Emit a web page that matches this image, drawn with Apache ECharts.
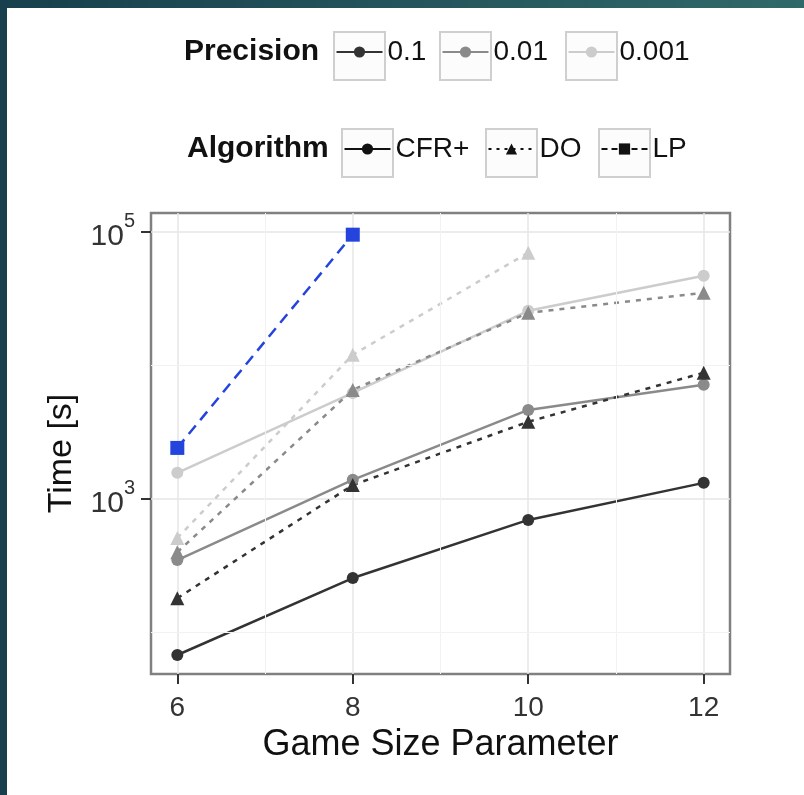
<!DOCTYPE html>
<html>
<head>
<meta charset="utf-8">
<script src="https://cdn.jsdelivr.net/npm/echarts@6/dist/echarts.min.js"></script>
<style>
html, body { margin: 0; padding: 0; }
body { width: 804px; height: 795px; overflow: hidden; position: relative;
       background: linear-gradient(to right, #173f4d, #30696a); }
#main { position: absolute; left: 7px; top: 8px; width: 797px; height: 787px; background: #fff; }
</style>
</head>
<body>
<div id="main"></div>
<script>
// game size parameter
var sizes = [6, 8, 10, 12];
// time [s] per algorithm and precision
var cfrP1   = [68, 256, 697, 1320];
var doP1    = [181, 1270, 3780, 8800];
var cfrP01  = [349, 1390, 4640, 7150];
var doP01   = [400, 6550, 24700, 34900];
var cfrP001 = [1570, 6220, 25600, 46800];
var doP001  = [510, 12000, 69700];
var lpTime  = [2410, 95000];

var precisions = ['0.1', '0.01', '0.001'];
var algorithms = ['CFR+', 'DO', 'LP'];
var yTicks = [1000, 100000];
var xTicks = [6, 8, 10, 12];

var precColor = { '0.1': '#333333', '0.01': '#8a8a8a', '0.001': '#cccccc' };
var algStyle = {
    'CFR+': { symbol: 'circle', size: 12, type: 'solid' },
    'DO':   { symbol: 'triangle', size: 14, type: [5, 6] },
    'LP':   { symbol: 'rect', size: 14, type: [11, 7] }
};

function pairs(vals) {
    return vals.map(function (v, i) { return [sizes[i], v]; });
}

function makeSeries(name, alg, color, vals) {
    var st = algStyle[alg];
    return {
        name: name,
        type: 'line',
        data: pairs(vals),
        symbol: st.symbol,
        symbolSize: st.size,
        showAllSymbol: true,
        z: 3,
        lineStyle: { color: color, width: 2.5, type: st.type },
        itemStyle: { color: color }
    };
}

var series = [
    // minor grid lines
    {
        name: 'grid', type: 'line', data: [], z: 1, silent: true,
        markLine: {
            silent: true, symbol: 'none', label: { show: false },
            lineStyle: { color: '#f2f2f2', width: 1, type: 'solid' },
            data: [{ xAxis: 7 }, { xAxis: 9 }, { xAxis: 11 }, { yAxis: 100 }, { yAxis: 10000 }]
        }
    },
    makeSeries('CFR+ 0.001', 'CFR+', precColor['0.001'], cfrP001),
    makeSeries('DO 0.001', 'DO', precColor['0.001'], doP001),
    makeSeries('CFR+ 0.01', 'CFR+', precColor['0.01'], cfrP01),
    makeSeries('DO 0.01', 'DO', precColor['0.01'], doP01),
    makeSeries('CFR+ 0.1', 'CFR+', precColor['0.1'], cfrP1),
    makeSeries('DO 0.1', 'DO', precColor['0.1'], doP1),
    makeSeries('LP', 'LP', '#2444dd', lpTime)
];

// legend-only series
precisions.forEach(function (p) {
    series.push({ name: p, type: 'line', data: [], symbol: 'circle', symbolSize: 12,
        lineStyle: { color: precColor[p], width: 2.5 }, itemStyle: { color: precColor[p] } });
});
algorithms.forEach(function (a) {
    var st = algStyle[a];
    series.push({ name: a + ' ', type: 'line', data: [], symbol: st.symbol, symbolSize: st.size,
        lineStyle: { color: '#111', width: 2.5, type: a === 'DO' ? [3, 5] : (a === 'LP' ? [6, 4] : 'solid') },
        itemStyle: { color: '#111' } });
});

// legend layout (page px)
var rowY = [55, 152];
var boxLeft = [[333, 439, 565], [341, 485, 598]];
var boxW = 51, boxH = 48;
var legends = [];
var graphics = [
    { type: 'text', left: 184 - 7, top: rowY[0] - 8 - 18,
      style: { text: 'Precision', font: 'bold 30px "Liberation Sans", Arial', fill: '#111' } },
    { type: 'text', left: 187 - 7, top: rowY[1] - 8 - 18,
      style: { text: 'Algorithm', font: 'bold 30px "Liberation Sans", Arial', fill: '#111' } }
];
[precisions, algorithms].forEach(function (names, r) {
    names.forEach(function (n, i) {
        var bl = boxLeft[r][i] - 7;
        graphics.push({ type: 'rect', left: bl, top: rowY[r] - 8 - boxH / 2, z: -1,
            shape: { width: boxW, height: boxH },
            style: { fill: '#fcfcfc', stroke: '#cfcfcf', lineWidth: 2 } });
        legends.push({
            data: [r === 0 ? n : n + ' '],
            left: bl + 2.5, top: rowY[r] - 8 - 17, padding: 0,
            itemWidth: 46, itemHeight: 14, selectedMode: false,
            formatter: function (s) { return s.trim(); },
            textStyle: { fontSize: 28, color: '#111', fontFamily: '"Liberation Sans", Arial' }
        });
    });
});

var chart = echarts.init(document.getElementById('main'));
chart.setOption({
    animation: false,
    textStyle: { fontFamily: '"Liberation Sans", Arial' },
    grid: { left: 144, top: 205, right: 74, bottom: 121, show: true,
            borderColor: '#808080', borderWidth: 2.5, backgroundColor: 'transparent' },
    legend: legends,
    graphic: graphics,
    xAxis: {
        type: 'value', min: 5.7, max: 12.3,
        name: 'Game Size Parameter', nameLocation: 'middle', nameGap: 52,
        nameTextStyle: { fontSize: 36, color: '#111' },
        axisLine: { show: false },
        axisTick: { show: true, customValues: xTicks, length: 10, lineStyle: { color: '#333', width: 2 } },
        axisLabel: { customValues: xTicks, fontSize: 28, color: '#333', margin: 20 },
        splitLine: { show: true, lineStyle: { color: '#e6e6e6', width: 1.5 } }
    },
    yAxis: {
        type: 'log', logBase: 10, min: 49, max: 138000,
        name: 'Time [s]', nameLocation: 'middle', nameGap: 72,
        nameTextStyle: { fontSize: 34, color: '#111', padding: [0, 20, 0, 0] },
        axisLine: { show: false },
        axisTick: { show: true, customValues: yTicks, length: 10, lineStyle: { color: '#333', width: 2 } },
        axisLabel: {
            customValues: yTicks, margin: 16, color: '#333',
            formatter: function (v) { return '{b|10}{s|' + Math.round(Math.log10(v)) + '}'; },
            rich: {
                b: { fontSize: 30, color: '#333', lineHeight: 40, verticalAlign: 'bottom' },
                s: { fontSize: 20, color: '#333', verticalAlign: 'top' }
            }
        },
        splitLine: { show: true, lineStyle: { color: '#e6e6e6', width: 1.5 } }
    },
    series: series
});
</script>
</body>
</html>
